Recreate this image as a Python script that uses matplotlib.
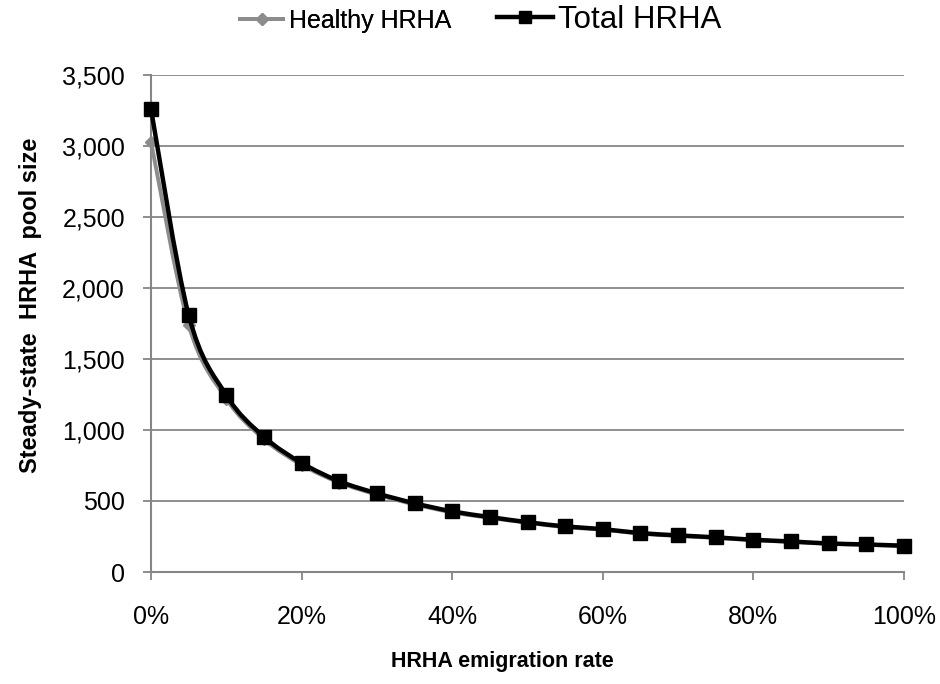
import matplotlib
matplotlib.use('Agg')
import matplotlib.pyplot as plt
from matplotlib.path import Path
from matplotlib.patches import PathPatch
from matplotlib.lines import Line2D
from matplotlib.ticker import FuncFormatter, MultipleLocator

plt.rcParams['font.family'] = ['Liberation Sans', 'DejaVu Sans']

rates = [0.00, 0.05, 0.10, 0.15, 0.20, 0.25, 0.30, 0.35, 0.40, 0.45, 0.50,
         0.55, 0.60, 0.65, 0.70, 0.75, 0.80, 0.85, 0.90, 0.95, 1.00]
healthy = [3030, 1740, 1220, 935, 755, 630, 545, 476, 420, 381, 347,
           316, 298, 270, 254, 240, 224, 212, 198, 191, 182]
total = [3260, 1810, 1245, 952, 768, 639, 554, 484, 427, 387, 351,
         321, 302, 274, 258, 244, 227, 215, 201, 194, 185]

series_names = ['Healthy HRHA', 'Total HRHA']
xlabel = 'HRHA emigration rate'
ylabel = 'Steady-state  HRHA  pool size'

GRID = '#868686'
GRAY = '#8c8c8c'


def smooth_path(xs, ys):
    n = len(xs)
    verts = [(xs[0], ys[0])]
    codes = [Path.MOVETO]
    for i in range(n - 1):
        xm, ym = (xs[i - 1], ys[i - 1]) if i > 0 else (xs[i], ys[i])
        xp2, yp2 = (xs[i + 2], ys[i + 2]) if i + 2 < n else (xs[i + 1], ys[i + 1])
        c1 = (xs[i] + (xs[i + 1] - xm) / 6.0, ys[i] + (ys[i + 1] - ym) / 6.0)
        c2 = (xs[i + 1] - (xp2 - xs[i]) / 6.0, ys[i + 1] - (yp2 - ys[i]) / 6.0)
        verts += [c1, c2, (xs[i + 1], ys[i + 1])]
        codes += [Path.CURVE4, Path.CURVE4, Path.CURVE4]
    return Path(verts, codes)


W, H = 940, 684
fig = plt.figure(figsize=(W / 100, H / 100), dpi=100)
ax = fig.add_axes([151 / W, 1 - 572 / H, (904 - 151) / W, (572 - 75) / H])

# Healthy (gray)
ax.add_patch(PathPatch(smooth_path(rates, healthy), facecolor='none',
                       edgecolor=GRAY, lw=2.8, capstyle='round',
                       joinstyle='round', zorder=3, clip_on=False))
ax.plot(rates, healthy, linestyle='none', marker='D', markersize=6,
        color=GRAY, zorder=3, clip_on=False)

# Total (black)
ax.add_patch(PathPatch(smooth_path(rates, total), facecolor='none',
                       edgecolor='black', lw=3.2, capstyle='round',
                       joinstyle='round', zorder=4, clip_on=False))
ax.plot(rates, total, linestyle='none', marker='s', markersize=10,
        color='black', zorder=5, clip_on=False)

ax.set_xlim(0, 1)
ax.set_ylim(0, 3500)
ax.xaxis.set_major_locator(MultipleLocator(0.2))
ax.yaxis.set_major_locator(MultipleLocator(500))
ax.xaxis.set_major_formatter(FuncFormatter(lambda v, p: f'{v * 100:.0f}%'))
ax.yaxis.set_major_formatter(FuncFormatter(lambda v, p: f'{v:,.0f}'))

ax.grid(axis='y', color=GRID, lw=1.3, zorder=1)
ax.set_axisbelow(True)
for s in ['top', 'right']:
    ax.spines[s].set_visible(False)
for s in ['left', 'bottom']:
    ax.spines[s].set_color(GRID)
    ax.spines[s].set_linewidth(1.5)

ax.tick_params(axis='both', colors=GRID, width=1.3, length=5.8, direction='out',
               labelcolor='black', labelsize=18)
ax.tick_params(axis='x', pad=18)
ax.tick_params(axis='y', pad=13)

ax.set_xlabel(xlabel, fontsize=15.5, fontweight='bold')
ax.xaxis.set_label_coords((502 - 151) / 753, (572 - 651) / 497)
ax.set_ylabel(ylabel, fontsize=17, fontweight='bold')
ax.yaxis.set_label_coords((42 - 151) / 753, (572 - 305) / 497)

h1 = [Line2D([], [], color=GRAY, lw=2.8, marker='D', markersize=6)]
h2 = [Line2D([], [], color='black', lw=3.2, marker='s', markersize=8)]
leg1 = fig.legend(h1, series_names[:1], loc='center left',
                  bbox_to_anchor=(240 / W, 1 - 21 / H), frameon=False,
                  fontsize=18, handlelength=1.72, handletextpad=0.25,
                  borderpad=0, borderaxespad=0)
leg2 = fig.legend(h2, series_names[1:], loc='center left',
                  bbox_to_anchor=(497 / W, 1 - 20 / H), frameon=False,
                  fontsize=22.5, handlelength=1.78, handletextpad=0.17,
                  borderpad=0, borderaxespad=0)
fig.add_artist(leg1)

fig.savefig('out.png', dpi=100)
